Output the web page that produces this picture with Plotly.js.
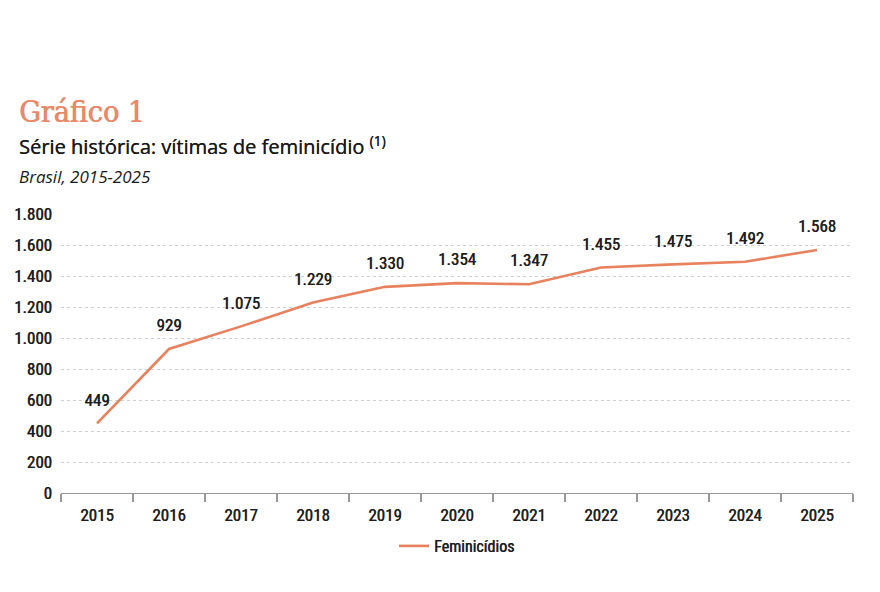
<!DOCTYPE html>
<html><head><meta charset="utf-8">
<script src="https://cdn.plot.ly/plotly-3.0.1.min.js"></script>
<style>html,body{margin:0;padding:0;background:#fff}#c{width:880px;height:592px}</style>
</head><body><div id="c"></div>
<script>
const years = ['2015','2016','2017','2018','2019','2020','2021','2022','2023','2024','2025'];
const feminicidios = [449, 929, 1075, 1229, 1330, 1354, 1347, 1455, 1475, 1492, 1568];
const yTicks = [0,200,400,600,800,1000,1200,1400,1600,1800];
const seriesName = 'Feminicídios';

const narrow = '"Liberation Sans Narrow", "Roboto Condensed", "DejaVu Sans Condensed", sans-serif';
const lineColor = '#E8825E';
const txtCol = '#1e1e1e';
const thick = '0.45px 0 0 ' + txtCol;

const trace = {
  x: years, y: feminicidios, type: 'scatter', mode: 'lines+markers+text', name: seriesName,
  line: {color: lineColor, width: 2.6},
  marker: {size: 20, color: 'rgba(0,0,0,0)', line: {width: 0}},
  texttemplate: '%{y:,d}', textposition: 'top center',
  textfont: {family: narrow, size: 17, color: txtCol, shadow: thick},
  cliponaxis: false, hoverinfo: 'skip'
};

const layout = {
  width: 880, height: 592,
  margin: {l: 61, r: 27, t: 214, b: 99},
  separators: ',.',
  paper_bgcolor: '#fff', plot_bgcolor: '#fff',
  showlegend: true,
  legend: {orientation: 'h', x: 0.5, xanchor: 'center', y: -0.19, yanchor: 'middle',
           font: {family: narrow, size: 16, color: txtCol, shadow: thick}},
  xaxis: {
    type: 'category', range: [-0.5, 10.5], tickson: 'boundaries',
    ticks: 'outside', ticklen: 8, tickcolor: '#999', tickwidth: 1.2,
    showline: true, linecolor: '#999', linewidth: 1.2, showgrid: false,
    ticklabelstandoff: 6,
    tickfont: {family: narrow, size: 17, color: txtCol, shadow: thick}, fixedrange: true
  },
  yaxis: {
    range: [0, 1800], tickvals: yTicks, tickformat: ',d',
    showgrid: true, gridcolor: '#cfcfcf', griddash: 'dot', gridwidth: 1,
    zeroline: false, showline: false, ticks: '', ticklabelstandoff: 8,
    tickfont: {family: narrow, size: 17, color: txtCol, shadow: thick}, fixedrange: true
  },
  annotations: [
    {text: 'Gráfico 1', xref: 'paper', yref: 'paper', x: -0.056, y: 1.366, xanchor: 'left', yanchor: 'middle',
     showarrow: false, font: {family: '"DejaVu Serif Condensed", "DejaVu Serif", serif', size: 30, color: '#E8896A', shadow: '0.8px 0 0 #E8896A'}},
    {text: 'Série histórica: vítimas de feminicídio <sup>(1)</sup>', xref: 'paper', yref: 'paper', x: -0.056, y: 1.244,
     xanchor: 'left', yanchor: 'middle', showarrow: false,
     font: {family: '"Open Sans", sans-serif', size: 20, color: '#1a1a1a', weight: 500, shadow: '0.3px 0 0 #1a1a1a'}},
    {text: '<i>Brasil, 2015-2025</i>', xref: 'paper', yref: 'paper', x: -0.056, y: 1.136,
     xanchor: 'left', yanchor: 'middle', showarrow: false,
     font: {family: '"Open Sans", sans-serif', size: 17, color: '#1a1a1a'}}
  ]
};

Plotly.newPlot('c', [trace], layout, {displayModeBar: false, staticPlot: true});
</script></body></html>
